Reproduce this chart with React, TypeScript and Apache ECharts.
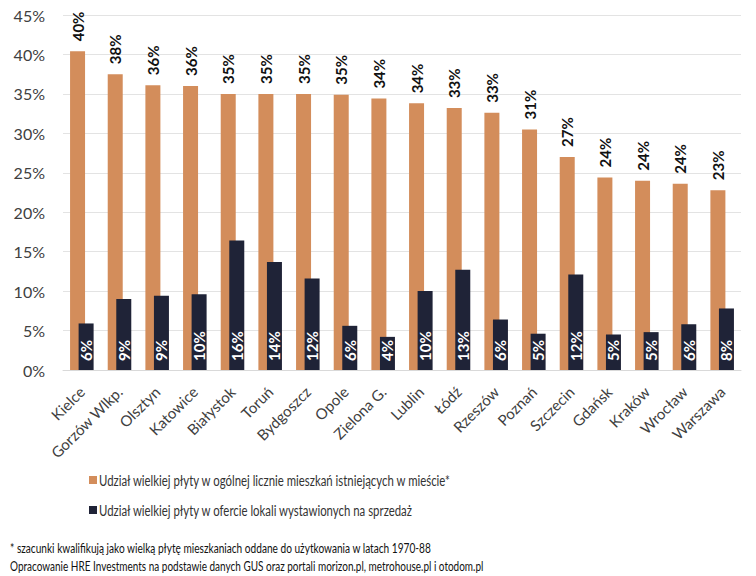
import React, { useEffect, useRef } from "react";
import * as echarts from "echarts";

const categories = [
  "Kielce", "Gorzów Wlkp.", "Olsztyn", "Katowice", "Białystok", "Toruń",
  "Bydgoszcz", "Opole", "Zielona G.", "Lublin", "Łódź", "Rzeszów",
  "Poznań", "Szczecin", "Gdańsk", "Kraków", "Wrocław", "Warszawa",
];
const existingShare = [
  40.4, 37.5, 36.1, 36.0, 35.0, 35.0, 35.0, 34.9, 34.4, 33.8, 33.2, 32.6,
  30.5, 27.0, 24.4, 24.0, 23.6, 22.8,
];
const offerShare = [
  5.9, 9.0, 9.4, 9.6, 16.4, 13.7, 11.6, 5.6, 4.2, 10.0, 12.7, 6.4,
  4.6, 12.1, 4.5, 4.8, 5.8, 7.8,
];
const seriesNames = [
  "Udział wielkiej płyty w ogólnej licznie mieszkań istniejących w mieście*",
  "Udział wielkiej płyty w ofercie lokali wystawionych na sprzedaż",
];
const seriesColors = ["#D38D5B", "#1F2337"];
const footnotes = [
  "* szacunki kwalifikują jako wielką płytę mieszkaniach oddane do użytkowania w latach 1970-88",
  "Opracowanie HRE Investments na podstawie danych GUS oraz portali morizon.pl, metrohouse.pl i otodom.pl",
];

const FONT = "Lato";

export default function App() {
  const ref = useRef<HTMLDivElement>(null);
  useEffect(() => {
    if (!ref.current) return;
    const chart = echarts.init(ref.current, undefined, { renderer: "svg" });
    const pct = (p: any) => Math.round(p.value) + "%";
    chart.setOption({
      animation: false,
      backgroundColor: "#ffffff",
      textStyle: { fontFamily: FONT },
      grid: { left: 63, right: 15, top: 15, bottom: 206, containLabel: false },
      legend: { show: false, data: seriesNames },
      xAxis: {
        type: "category",
        data: categories,
        axisLine: { lineStyle: { color: "#d9d9d9" } },
        axisTick: { show: false },
        axisLabel: {
          rotate: 45,
          interval: 0,
          color: "#404040",
          fontSize: 15,
          fontFamily: FONT,
          margin: 19,
        },
      },
      yAxis: {
        type: "value",
        min: 0,
        max: 45,
        interval: 5,
        axisLine: { show: false },
        axisTick: { show: false },
        splitLine: { lineStyle: { color: "#e3e3e3" } },
        axisLabel: {
          formatter: "{value}%",
          color: "#404040",
          fontSize: 16,
          fontFamily: FONT,
          margin: 18,
        },
      },
      series: [
        {
          name: seriesNames[0],
          type: "bar",
          data: existingShare,
          barWidth: 15,
          barGap: "-43%",
          itemStyle: { color: seriesColors[0] },
          label: {
            show: true,
            position: "top",
            rotate: 90,
            align: "left",
            verticalAlign: "middle",
            distance: 10,
            formatter: pct,
            color: "#111111",
            fontWeight: "bold",
            fontSize: 15,
            fontFamily: FONT,
          },
          labelLayout: { rotate: 90, align: "left", verticalAlign: "middle" },
        },
        {
          name: seriesNames[1],
          type: "bar",
          data: offerShare,
          barWidth: 15,
          barGap: "-43%",
          itemStyle: { color: seriesColors[1] },
          label: {
            show: true,
            position: "insideBottom",
            rotate: 90,
            align: "left",
            verticalAlign: "middle",
            distance: 9,
            formatter: pct,
            color: "#ffffff",
            fontWeight: "bold",
            fontSize: 15,
            fontFamily: FONT,
          },
          labelLayout: { rotate: 90, align: "left", verticalAlign: "middle" },
        },
      ],
      graphic: [
        {
          type: "rect",
          shape: { x: 89, y: 476, width: 8, height: 8 },
          style: { fill: seriesColors[0] },
        },
        {
          type: "text",
          x: 99,
          y: 480,
          scaleX: 0.76,
          style: {
            text: seriesNames[0],
            fontSize: 15,
            fill: "#333333",
            fontFamily: FONT,
            verticalAlign: "middle",
          },
        },
        {
          type: "rect",
          shape: { x: 89, y: 506, width: 8, height: 8 },
          style: { fill: seriesColors[1] },
        },
        {
          type: "text",
          x: 99,
          y: 510,
          scaleX: 0.76,
          style: {
            text: seriesNames[1],
            fontSize: 15,
            fill: "#333333",
            fontFamily: FONT,
            verticalAlign: "middle",
          },
        },
        {
          type: "text",
          x: 10,
          y: 548,
          scaleX: 0.75,
          style: { text: footnotes[0], fontSize: 13.5, fill: "#111111", fontFamily: FONT, verticalAlign: "middle" },
        },
        {
          type: "text",
          x: 10,
          y: 566,
          scaleX: 0.74,
          style: { text: footnotes[1], fontSize: 13.5, fill: "#111111", fontFamily: FONT, verticalAlign: "middle" },
        },
      ],
    });
    return () => chart.dispose();
  }, []);
  return <div ref={ref} style={{ width: 756, height: 576, position: "absolute", left: 0, top: 0 }} />;
}
